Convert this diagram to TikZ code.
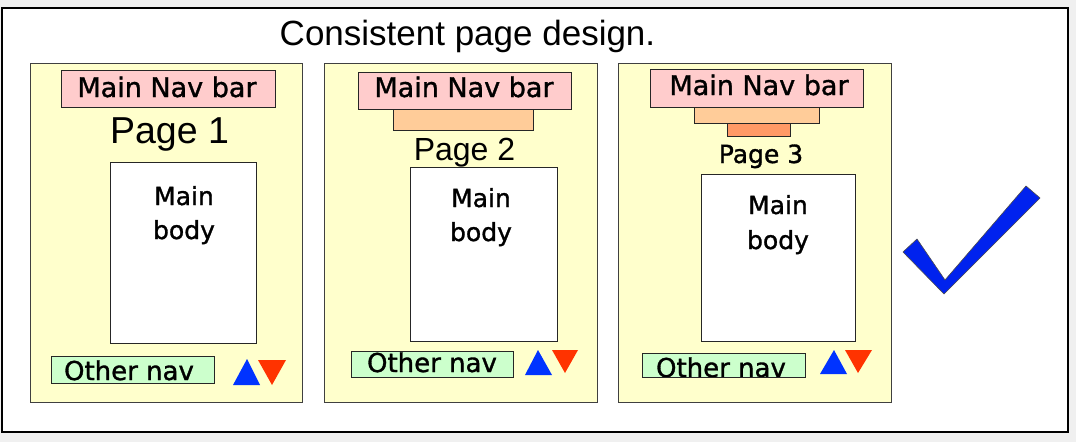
\documentclass[tikz,border=0pt]{standalone}
\usepackage{fontspec}
\setmainfont{Liberation Sans}
\newfontfamily\pixfont[FakeBold=1.2]{DejaVu Sans}
\definecolor{pagefill}{HTML}{FFFFCC}
\definecolor{navfill}{HTML}{FFCCCC}
\definecolor{subfill}{HTML}{FFCC99}
\definecolor{subsubfill}{HTML}{FF9966}
\definecolor{otherfill}{HTML}{CCFFCC}
\definecolor{upblue}{HTML}{0033FF}
\definecolor{downred}{HTML}{FF3300}
\definecolor{tickblue}{HTML}{0022EE}
\definecolor{outside}{HTML}{F0F0F0}
\begin{document}
\begin{tikzpicture}[x=1pt,y=-1pt,
  box/.style={draw=black!85,line width=1pt,inner sep=0pt,anchor=north west},
  pagebox/.style={box,fill=pagefill,draw=black!75,line width=1.2pt},
  navbox/.style={box,fill=navfill},
  subbox/.style={box,fill=subfill},
  subsubbox/.style={box,fill=subsubfill},
  bodybox/.style={box,fill=white},
  otherbox/.style={box,fill=otherfill},
  label/.style={anchor=base,inner sep=0pt,text=black},
  navtext/.style={label,font=\pixfont\fontsize{27}{30}\selectfont},
  bodytext/.style={label,font=\pixfont\fontsize{25}{30}\selectfont},
  othertext/.style={label,font=\pixfont\fontsize{26}{30}\selectfont},
  uptri/.style={fill=upblue},
  downtri/.style={fill=downred}]
\useasboundingbox (0,0) rectangle (1076,442);
\fill[outside] (0,0) rectangle (1076,442);
\node[box,fill=white,draw=black,line width=1.6pt,minimum width=1066pt,minimum height=424pt] (frame) at (1,7) {};

% heading
\node[label,font=\fontsize{35}{40}\selectfont] (title) at (467.5,45) {Consistent page design.};

% ---- page 1
\node[pagebox,minimum width=272pt,minimum height=339pt] (p1) at (30,63) {};
\node[navbox,minimum width=214pt,minimum height=37pt] (nav1) at (61,70) {};
\node[navtext] (nav1t) at (167,97) {Main Nav bar};
\node[label,font=\fontsize{37.5}{40}\selectfont] (pg1) at (169.5,143) {Page 1};
\node[bodybox,minimum width=146pt,minimum height=181pt] (body1) at (110,162) {};
\node[bodytext] (body1a) at (184,205) {Main};
\node[bodytext] (body1b) at (184,239) {body};
\node[otherbox,minimum width=163pt,minimum height=27pt] (oth1) at (51,356) {};
\node[othertext] (oth1t) at (129,380) {Other nav};
\fill[uptri] (247,359) -- (260,385) -- (233,385) -- cycle;
\fill[downtri] (258,360) -- (286,360) -- (272,385) -- cycle;

% ---- page 2
\node[pagebox,minimum width=273pt,minimum height=339pt] (p2) at (324,63) {};
\node[navbox,minimum width=213pt,minimum height=37pt] (nav2) at (358,72) {};
\node[subbox,minimum width=140pt,minimum height=21pt] (sub2) at (393,109) {};
\node[navtext] (nav2t) at (464,97) {Main Nav bar};
\node[label,font=\fontsize{32}{36}\selectfont] (pg2) at (464.5,160) {Page 2};
\node[bodybox,minimum width=147pt,minimum height=174pt] (body2) at (410,167) {};
\node[bodytext] (body2a) at (481,207) {Main};
\node[bodytext] (body2b) at (481,241) {body};
\node[otherbox,minimum width=162pt,minimum height=26pt] (oth2) at (351,351) {};
\node[othertext] (oth2t) at (432,372) {Other nav};
\fill[uptri] (538,350) -- (552,375) -- (525,375) -- cycle;
\fill[downtri] (552,350) -- (578,350) -- (565,373) -- cycle;

% ---- page 3
\node[pagebox,minimum width=273pt,minimum height=339pt] (p3) at (618,63) {};
\node[navbox,minimum width=213pt,minimum height=38pt] (nav3) at (650,69) {};
\node[subbox,minimum width=125pt,minimum height=16pt] (sub3) at (694,107) {};
\node[subsubbox,minimum width=63pt,minimum height=13pt] (subsub3) at (727,123) {};
\node[navtext] (nav3t) at (759,95) {Main Nav bar};
\node[label,font=\pixfont\fontsize{25}{30}\selectfont] (pg3) at (761,163) {Page 3};
\node[bodybox,minimum width=154pt,minimum height=167pt] (body3) at (701,174) {};
\node[bodytext] (body3a) at (778,214) {Main};
\node[bodytext] (body3b) at (778,249) {body};
\begin{scope}
  \clip (642,353) rectangle (805,377);
  \node[otherbox,minimum width=163pt,minimum height=24pt] (oth3) at (642,353) {};
  \node[othertext] (oth3t) at (721,377) {Other nav};
\end{scope}
\draw[black!85,line width=1pt] (642,353) rectangle (805,377);
\fill[uptri] (834,350) -- (847,374) -- (820,374) -- cycle;
\fill[downtri] (845,350) -- (872,350) -- (858,373) -- cycle;

% ---- tick mark
\filldraw[fill=tickblue,draw=black!70,line width=0.6pt,line join=miter]
  (903,252) -- (944,294) -- (1040,198) -- (1026,186) -- (945,280) -- (917,239) -- cycle;
\end{tikzpicture}
\end{document}
